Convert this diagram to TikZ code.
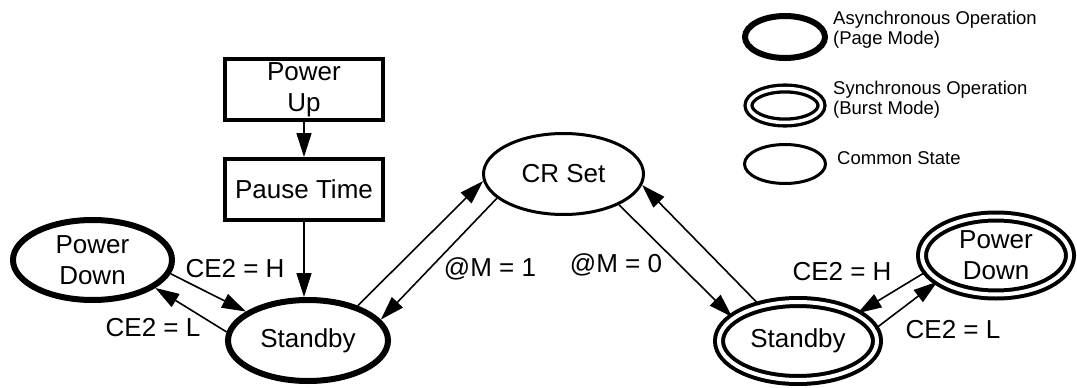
\documentclass[tikz,border=0pt]{standalone}
\usepackage{fontspec}
\setmainfont{Liberation Sans}
\usetikzlibrary{arrows.meta,shapes.geometric}
\begin{document}
\begin{tikzpicture}[x=1pt,y=-1pt,
  lbl/.style={font=\fontsize{26}{31}\selectfont, inner sep=0pt},
  stbox/.style={draw, line width=4pt, rectangle, minimum width=158pt, minimum height=61pt, inner sep=0pt, align=center, font=\fontsize{26}{31}\selectfont},
  async/.style={draw, ellipse, line width=6pt, inner sep=-4pt, align=center, font=\fontsize{26}{31}\selectfont},
  common/.style={draw, ellipse, line width=3pt, inner sep=-4pt, align=center, font=\fontsize{26}{31}\selectfont},
  sync/.style={draw, ellipse, line width=4pt, double, double distance=4pt, inner sep=-4pt, align=center, font=\fontsize{26}{31}\selectfont},
  legtext/.style={inner sep=0pt, align=left, font=\fontsize{18.5}{19.5}\selectfont},
  conn/.style={line width=1.6pt, -{Triangle[length=24pt,width=15pt]}}
]
\useasboundingbox (0,0) rectangle (1077,388);

% boxes
\node[stbox] (pu) at (304,89.5) {Power\\Up};
\node[stbox] (pt) at (304,189.5) {Pause Time};

% states
\node[async, minimum width=159pt, minimum height=80pt] (pdl) at (92.5,260) {Power\\Down};
\node[async, minimum width=160pt, minimum height=81pt] (sbl) at (308,340.5) {Standby};
\node[common, minimum width=160pt, minimum height=81pt] (cr) at (563.5,174) {CR Set};
\node[sync, minimum width=158pt, minimum height=78pt] (sbr) at (798,341) {Standby};
\node[sync, minimum width=148pt, minimum height=78pt] (pdr) at (996,255.5) {Power\\Down};

% connectors
\draw[conn] (pu.south) -- (pt.north);
\draw[conn] (pt.south) -- (sbl.north -| pt.south);
\draw[conn] (pdl.-10.7) -- (sbl.155.2);
\draw[conn] (sbl.174.6) -- (pdl.-24.9);
\draw[conn] (sbl.35.1) -- (cr.-175.9);
\draw[conn] (cr.-160) -- (sbl.16.4);
\draw[conn] (cr.-29.6) -- (sbr.160.9);
\draw[conn] (sbr.137.2) -- (cr.-8);
\draw[conn] (pdr.-167.2) -- (sbr.25.8);
\draw[conn] (sbr.9.3) -- (pdr.-156.2);

% labels
\node[lbl, anchor=base] (l1) at (235,277.5) {CE2 = H};
\node[lbl, anchor=base] (l2) at (153,336) {CE2 = L};
\node[lbl, anchor=base] (l3) at (490,276) {@M = 1};
\node[lbl, anchor=base] (l4) at (616,272) {@M = 0};
\node[lbl, anchor=base] (l5) at (842,280) {CE2 = H};
\node[lbl, anchor=base] (l6) at (953,338) {CE2 = L};

% legend
\node[draw, ellipse, line width=6pt, minimum width=80pt, minimum height=42pt, inner sep=0pt] (lga) at (785,37) {};
\node[draw, ellipse, line width=3.3pt, double, double distance=3.5pt, minimum width=73pt, minimum height=34pt, inner sep=0pt] (lgs) at (785,105.5) {};
\node[draw, ellipse, line width=3pt, minimum width=81pt, minimum height=39pt, inner sep=0pt] (lgc) at (785,164) {};
\node[legtext, anchor=base west] (ta) at (833,44.1) {Asynchronous Operation\\(Page Mode)};
\node[legtext, anchor=base west] (ts) at (833,114.1) {Synchronous Operation\\(Burst Mode)};
\node[legtext, anchor=base west] (tc) at (837,164) {Common State};
\end{tikzpicture}
\end{document}
